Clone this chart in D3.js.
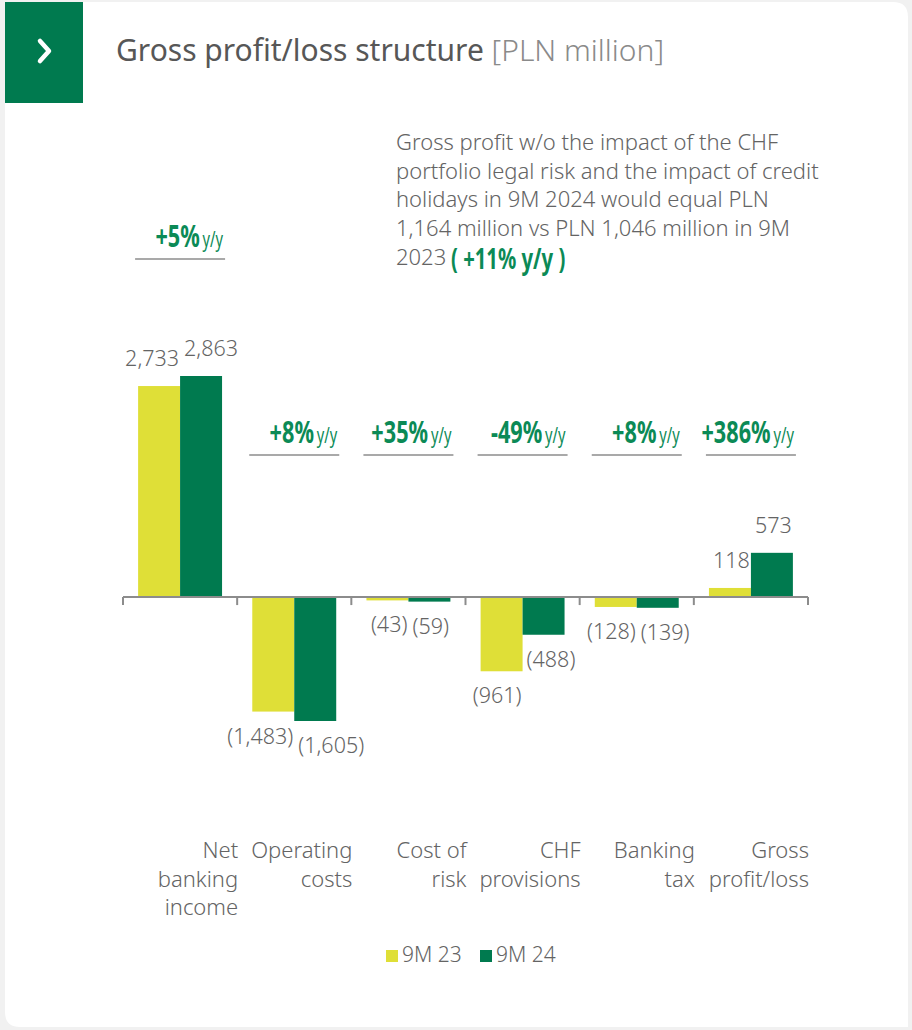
<!DOCTYPE html>
<html>
<head>
<meta charset="utf-8">
<script src="https://cdn.jsdelivr.net/npm/d3@7"></script>
<style>
  body { margin: 0; background: #f1f1f1; }
  svg { display: block; }
  text { font-family: "Noto Sans", "DejaVu Sans Condensed", sans-serif; font-weight: 300; }
  .big { font-weight: 700; }
</style>
</head>
<body>
<div id="chart"></div>
<script>
// data
var categories = [["Net", "banking", "income"], ["Operating", "costs"], ["Cost of", "risk"],
                  ["CHF", "provisions"], ["Banking", "tax"], ["Gross", "profit/loss"]];
var series = ["9M 23", "9M 24"];
var values23 = [2733, -1483, -43, -961, -128, 118];
var values24 = [2863, -1605, -59, -488, -139, 573];
var changes = ["+5%", "+8%", "+35%", "-49%", "+8%", "+386%"];
var noteLines = ["Gross profit w/o the impact of the CHF",
                 "portfolio legal risk and the impact of credit",
                 "holidays in 9M 2024 would equal PLN",
                 "1,164 million vs PLN 1,046 million in 9M",
                 "2023"];
var noteChange = "( +11% y/y )";

var green = "#007a4f", yellow = "#dfdf37", textGray = "#646464";

var W = 912, H = 1030;
var svg = d3.select("#chart").append("svg")
    .attr("width", W)
    .attr("height", H);

// squeeze a text horizontally around its anchor point
function squeeze(sel, px, py, k) {
  sel.attr("transform", "translate(" + px + "," + py + ") scale(" + k + ",1) translate(" + (-px) + "," + (-py) + ")");
}

// card
svg.append("path")
  .attr("fill", "white")
  .attr("d", "M5,2 H893 Q908,2 908,17 V1027 H20 Q5,1027 5,1012 Z");

// header box
svg.append("rect").attr("x", 5).attr("y", 2).attr("width", 78).attr("height", 101).attr("fill", green);
svg.append("path")
  .attr("d", "M40,41 L49,51 L40,61")
  .attr("fill", "none").attr("stroke", "white").attr("stroke-width", 4.5)
  .attr("stroke-linecap", "round").attr("stroke-linejoin", "round");

var title = svg.append("text").attr("x", 116).attr("y", 61)
  .style("font-size", "30px").style("font-weight", "400").attr("fill", "#575757");
title.append("tspan").text("Gross profit/loss structure ");
title.append("tspan").attr("fill", "#8a8a8a").style("font-weight", "300").text("[PLN million]");

// note
var note = svg.append("g").attr("transform", "translate(396,0)");
noteLines.forEach(function(l, i) {
  note.append("text").attr("x", 0).attr("y", 150 + i * 28.7)
    .style("font-size", "22px").attr("fill", textGray).text(l);
});
note.append("text").attr("class", "big").attr("x", 55).attr("y", 269)
  .style("font-size", "29px").attr("fill", "#0b8a56")
  .text(noteChange)
  .call(squeeze, 55, 269, 0.7);

// scales
var x0 = d3.scaleBand().domain(d3.range(categories.length)).range([123, 808]);
var x1 = d3.scaleBand().domain(series).range([0, x0.bandwidth()]).paddingOuter(0.36).paddingInner(0);
var y = d3.scaleLinear().domain([-1605, 2863]).range([721, 376]);

var rows = categories.map(function(c, i) {
  return {i: i, vals: [{s: series[0], v: values23[i]}, {s: series[1], v: values24[i]}]};
});

var groups = svg.selectAll(".grp").data(rows).enter().append("g")
  .attr("transform", function(d) { return "translate(" + x0(d.i) + ",0)"; });

groups.selectAll("rect").data(function(d) { return d.vals; }).enter().append("rect")
  .attr("x", function(d) { return x1(d.s); })
  .attr("width", x1.bandwidth())
  .attr("y", function(d) { return y(Math.max(0, d.v)); })
  .attr("height", function(d) { return Math.abs(y(d.v) - y(0)); })
  .attr("fill", function(d, j) { return j === 0 ? yellow : green; });

function fmt(v) {
  var s = d3.format(",")(Math.abs(v));
  return v < 0 ? "(" + s + ")" : s;
}

groups.selectAll(".lbl").data(function(d) { return d.vals; }).enter().append("text")
  .attr("x", function(d, j) { return j === 0 ? x1(d.s) + x1.bandwidth() - 1 : x1(d.s) + 4; })
  .attr("y", function(d) { return d.v >= 0 ? y(d.v) - 20 : y(d.v) + 32; })
  .attr("text-anchor", function(d, j) { return j === 0 ? "end" : "start"; })
  .style("font-size", "21.5px").attr("fill", textGray)
  .text(function(d) { return fmt(d.v); });

// axis
var axis = svg.append("g").attr("transform", "translate(0," + y(0) + ")");
axis.append("line").attr("x1", 123).attr("x2", 808).attr("stroke", "#8c8c8c").attr("stroke-width", 2);
axis.selectAll(".tk").data(d3.range(categories.length + 1)).enter().append("line")
  .attr("x1", function(d) { return 123 + d * x0.step(); })
  .attr("x2", function(d) { return 123 + d * x0.step(); })
  .attr("y1", 0).attr("y2", 8)
  .attr("stroke", "#8c8c8c").attr("stroke-width", 2);

// category labels
groups.each(function(d) {
  var g = d3.select(this);
  categories[d.i].forEach(function(line, k) {
    g.append("text").attr("x", x0.bandwidth() + 1).attr("y", 858 + k * 28.5)
      .attr("text-anchor", "end").style("font-size", "22px").attr("fill", textGray)
      .text(line);
  });
});

// y/y change badges
groups.each(function(d) {
  var g = d3.select(this);
  var cy = d.i === 0 ? 247 : 443;
  var cx = x0.bandwidth() / 2;
  g.append("line").attr("x1", cx - 45).attr("x2", cx + 45).attr("y1", cy + 12).attr("y2", cy + 12)
    .attr("stroke", "#a9a9a9").attr("stroke-width", 2);
  var t = g.append("text").attr("class", "big").attr("x", cx + 43).attr("y", cy).attr("text-anchor", "end")
    .attr("fill", "#0b8a56")
    .call(squeeze, cx + 43, cy, 0.7);
  t.append("tspan").style("font-size", "31px").text(changes[d.i]);
  t.append("tspan").style("font-size", "21px").style("font-weight", "400").attr("dx", 4).text("y/y");
});

// legend
var legend = svg.append("g").attr("transform", "translate(386,962)");
series.forEach(function(s, i) {
  legend.append("rect").attr("x", i * 94).attr("y", -12).attr("width", 12).attr("height", 12)
    .attr("fill", i === 0 ? yellow : green);
  legend.append("text").attr("x", i * 94 + 16).attr("y", 0)
    .style("font-size", "21px").attr("fill", textGray).text(s);
});
</script>
</body>
</html>
